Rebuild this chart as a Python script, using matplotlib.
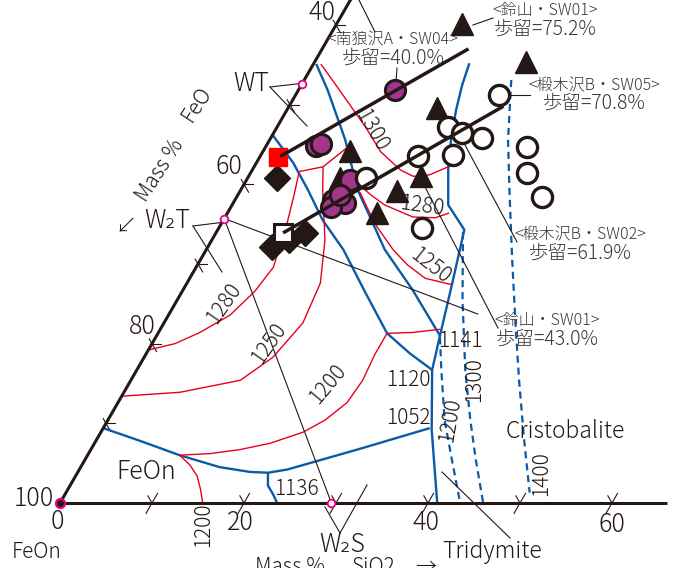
import numpy as np
import matplotlib.pyplot as plt

plt.rcParams['font.family'] = ['Noto Sans CJK JP', 'DejaVu Sans']
plt.rcParams['font.weight'] = 'light'

INK = '#231815'
TXT = '#3a3634'
BLUE = '#0a5aa8'
RED = '#e60020'
PURPLE = '#a3358f'
MAGENTA = '#e4007f'

# ---- data: compositions in mass % as (SiO2, FeO); the remainder is TiO2 ----
feo_ticks = [90, 80, 70, 60, 50, 40]
sio2_ticks = [10, 20, 30, 40, 50, 60]

# phase boundaries (blue)
bnd_1052 = [(0.0, 90.6), (4.8, 87.4), (10.0, 84.0), (15.1, 80.4), (18.7, 77.4),
            (20.7, 75.5), (22.6, 73.2), (29.2, 64.0), (35.5, 55.1)]
bnd_1136 = [(20.7, 75.5), (21.5, 76.3), (22.7, 76.3), (23.6, 76.4)]
bnd_silica = [(16.9, 27.9), (17.5, 30.1), (18.4, 32.3), (19.7, 34.7), (21.3, 36.9),
              (23.5, 39.1), (26.8, 38.9), (28.9, 43.7), (30.8, 48.2), (32.1, 51.2),
              (35.8, 55.0), (41.0, 59.0)]
bnd_w2t = [(0.0, 53.8), (4.0, 53.3), (7.3, 53.4), (10.8, 53.7), (14.9, 53.3),
           (19.9, 53.6), (24.9, 53.8), (28.6, 52.6), (32.1, 51.2)]
bnd_wt = [(0.3, 44.6), (3.2, 45.0), (8.2, 46.2), (12.7, 48.0), (16.2, 48.4),
          (19.4, 48.8), (25.0, 48.3), (30.8, 48.2)]

# silica liquidus isotherms (blue dashed)
dash_1200 = [(30.9, 48.3), (33.1, 50.2), (36.6, 53.0), (39.9, 54.7), (43.5, 56.5)]
dash_1300 = [(26.8, 39.2), (31.0, 43.5), (35.7, 47.6), (39.4, 50.2), (42.5, 52.1),
             (46.0, 54.0)]
dash_1400 = [(22.5, 24.4), (25.9, 28.5), (29.2, 31.5), (33.9, 35.6), (38.7, 39.6),
             (42.2, 42.4), (46.5, 45.6), (50.4, 48.3)]

# isotherms (red)
iso_1300 = [(0.8, 44.1), (3.6, 43.8), (6.6, 43.5), (9.6, 43.2), (12.8, 43.1),
            (16.1, 42.1), (17.9, 41.1), (19.6, 39.2), (21.1, 36.7)]
iso_1300b = [(5.2, 53.2), (7.5, 50.3), (8.9, 46.5)]
iso_1280 = [(5.2, 53.2), (6.1, 55.2), (7.1, 57.7), (8.4, 62.0), (7.9, 65.5),
            (6.7, 69.7), (4.5, 74.1), (2.5, 77.5), (0.0, 80.8)]
iso_1280b = [(12.2, 47.6), (14.4, 46.9), (16.6, 46.0), (20.4, 43.7), (22.9, 41.3),
             (24.1, 39.5)]
iso_1250 = [(7.5, 50.3), (8.9, 51.8), (12.3, 54.7), (14.5, 57.9), (15.1, 62.3),
            (14.0, 67.7), (11.9, 72.7), (6.1, 80.0), (0.0, 86.6)]
iso_1250b = [(13.1, 47.9), (15.1, 48.1), (17.2, 48.2), (20.3, 47.9), (22.8, 47.3),
             (25.6, 46.2), (28.9, 43.7)]
iso_1200 = [(24.9, 53.8), (24.9, 56.5), (25.2, 59.4), (24.9, 62.5), (23.6, 66.0),
            (22.0, 69.1), (19.1, 73.4), (16.2, 77.1), (13.2, 80.6), (10.0, 84.0)]
iso_1200b = [(10.0, 84.0), (11.7, 83.5), (13.2, 83.4), (14.5, 83.9), (15.5, 84.5)]
iso_1141 = [(24.9, 53.8), (27.6, 51.0), (30.4, 47.8)]

# slag analyses
purple_pts = [(10.5, 37.7), (5.4, 49.8), (5.9, 49.1), (11.2, 48.2), (10.7, 51.3),
              (12.1, 50.2), (10.9, 51.9), (11.1, 50.3)]
open_pts = [(22.1, 26.7), (12.9, 46.3), (17.1, 39.3), (18.6, 34.2), (20.5, 33.1),
            (23.0, 31.2), (20.9, 35.4), (22.1, 43.4), (28.4, 26.9), (30.1, 28.5),
            (33.2, 28.4)]
tri_pts = [(13.7, 26.2), (23.0, 21.7), (16.2, 34.2), (9.4, 46.4), (10.0, 49.2),
           (16.3, 47.3), (17.0, 43.8), (18.7, 40.3)]
dia_pts = [(3.2, 56.0), (7.0, 60.9), (9.7, 56.4), (8.4, 58.6)]
red_sq = [(2.0, 54.6)]
open_sq = [(7.3, 58.8)]

tie_upper = [(2.2, 54.3), (15.9, 27.1)]
tie_lower = [(7.3, 58.8), (23.3, 26.9)]

# compounds
WT = (0.0, 47.4)
W2T = (0.0, 64.3)
W2S = (29.5, 70.5)
FEO = (0.0, 100.0)
w2t_join_end = (33.6, 42.7)

S = 9.2  # image pixels per mass %


def tern(sio2, feo):
    sio2 = np.asarray(sio2, float)
    feo = np.asarray(feo, float)
    c = 100.0 - sio2 - feo
    return sio2 + c / 2.0, c * np.sqrt(3) / 2.0


def xy(points):
    s, f = zip(*points)
    return tern(s, f)


def at(px, py):
    # layout helper: image pixel -> diagram units
    return (px - 60) / S, (503 - py) / S


fig = plt.figure(figsize=(6.73, 5.68), dpi=100)
ax = fig.add_axes([0, 0, 1, 1])
ax.set_xlim(-60 / S, 613 / S)
ax.set_ylim(-65 / S, 503 / S)
ax.axis('off')


def line(points, **kw):
    x, y = xy(points)
    ax.plot(x, y, solid_capstyle='butt', **kw)


def seg(p0, p1, **kw):
    kw.setdefault('color', INK)
    kw.setdefault('lw', 0.8)
    ax.plot([p0[0], p1[0]], [p0[1], p1[1]], **kw)


# triangle edges
line([FEO, (0.0, 36.0)], color=INK, lw=2.2, zorder=4)
line([FEO, (66.0, 34.0)], color=INK, lw=2.2, zorder=4)

# ticks
d60 = np.array([0.5, np.sqrt(3) / 2])
d120 = np.array([-0.5, np.sqrt(3) / 2])
dm60 = np.array([0.5, -np.sqrt(3) / 2])
for f in feo_ticks:
    p = np.array(tern(0, f))
    seg(p, p + [1.0, 0.0])
    seg(p - 0.6 * dm60, p + 1.0 * dm60)
for s in sio2_ticks:
    p = np.array(tern(s, 100 - s))
    seg(p - 1.3 * d60, p + 1.2 * d60)
    seg(p, p + 0.9 * d120)

# boundaries
for b in [bnd_1052, bnd_1136, bnd_silica, bnd_w2t, bnd_wt]:
    line(b, color=BLUE, lw=1.7, zorder=2)
for d in [dash_1200, dash_1300, dash_1400]:
    line(d, color=BLUE, lw=1.6, ls=(0, (3.2, 2.2)), zorder=2)
for r in [iso_1300, iso_1300b, iso_1280, iso_1280b, iso_1250, iso_1250b,
          iso_1200, iso_1200b, iso_1141]:
    line(r, color=RED, lw=1.0, zorder=2)

# compound joins and leaders
line([W2T, w2t_join_end], color=INK, lw=0.8, zorder=3)
line([W2T, W2S], color=INK, lw=0.8, zorder=3)
leaders = [
    ((270, 87), (305, 83)), ((270, 87), (307, 126)),
    ((193, 226), (225, 222)), ((193, 226), (222, 272)),
    ((340, 533), (325, 507)), ((340, 533), (367, 485)),
    ((442, 472), (510, 538)),
    ((358, -2), (375, 32)),
    ((473, 25), (493, 18)),
    ((397, 68), (396, 82)),
    ((510, 95), (530, 95)),
    ((465, 145), (517, 242)),
    ((423, 183), (498, 328)),
]
for a, b in leaders:
    seg(at(*a), at(*b), zorder=3)

# markers
x, y = xy(tri_pts)
ax.plot(x, y, '^', ms=16, color=INK, ls='none', zorder=5)
x, y = xy(dia_pts)
ax.plot(x, y, 'D', ms=13.5, color=INK, ls='none', zorder=5)
x, y = xy(purple_pts)
ax.plot(x, y, 'o', ms=14.5, mfc=PURPLE, mec=INK, mew=2.2, ls='none', zorder=6)
x, y = xy(open_pts)
ax.plot(x, y, 'o', ms=14.5, mfc='white', mec=INK, mew=2.4, ls='none', zorder=7)
x, y = xy(red_sq)
ax.plot(x, y, 's', ms=12.5, color='#ff0000', ls='none', zorder=7)
x, y = xy(open_sq)
ax.plot(x, y, 's', ms=12.5, mfc='white', mec=INK, mew=2.2, ls='none', zorder=7)

line(tie_upper, color=INK, lw=2.5, zorder=8)
line(tie_lower, color=INK, lw=2.5, zorder=8)

x, y = xy([WT, W2T, W2S])
ax.plot(x, y, 'o', ms=5.5, mfc='white', mec=MAGENTA, mew=1.3, ls='none', zorder=9)
x, y = xy([FEO])
ax.plot(x, y, 'o', ms=6.5, mfc=INK, mec=MAGENTA, mew=1.6, ls='none', zorder=9)


def label(s, px, py, size, rot=0, ha='center', va='center', color=INK):
    ax.text(*at(px, py), s, fontsize=size, rotation=rot, ha=ha, va=va,
            color=color, rotation_mode='anchor', zorder=10)


# axis numbers
label('40', 322, 13, 18)
label('60', 229, 167, 18)
label('80', 142, 327, 18)
label('100', 34, 499, 18)
label('0', 57, 522, 18)
label('20', 240, 523, 18)
label('40', 426, 523, 18)
label('60', 612, 525, 18)
label('FeOn', 37, 552, 15)

label('Mass %', 160, 170, 15, rot=57)
label('FeO', 197, 104, 15, rot=57)
label('↙', 126, 227, 15)
label('Mass %', 255, 556, 15, ha='left', va='top')
label('SiO2', 352, 556, 15, ha='left', va='top')
label('→', 415, 556, 15, ha='left', va='top')

# phases and compounds
label('WT', 251, 84, 18)
label('W₂T', 167, 221, 18)
label('W₂S', 342, 545, 18)
label('FeOn', 146, 472, 18)
label('Cristobalite', 565, 432, 16.5)
label('Tridymite', 492, 552, 16.5)

# temperatures
label('1141', 460, 341, 15)
label('1120', 408, 380, 15)
label('1052', 408, 418, 15)
label('1136', 297, 489, 15)
label('1300', 372, 130, 15, rot=-60)
label('1280', 422, 206, 15, rot=-8)
label('1250', 430, 266, 15, rot=-38)
label('1280', 224, 303, 15, rot=55)
label('1250', 269, 343, 15, rot=55)
label('1200', 328, 384, 15, rot=50)
label('1200', 203, 525, 15, rot=90)
label('1200', 450, 420, 15, rot=80)
label('1300', 474, 380, 15, rot=90)
label('1400', 541, 474, 15, rot=90)

# sample notes
notes = [
    ('<南狼沢A・SW04>', '歩留=40.0%', 393, 40, 58),
    ('<鈴山・SW01>', '歩留=75.2%', 545, 11, 29),
    ('<椴木沢B・SW05>', '歩留=70.8%', 594, 86, 103),
    ('<椴木沢B・SW02>', '歩留=61.9%', 580, 235, 253),
    ('<鈴山・SW01>', '歩留=43.0%', 547, 321, 339),
]
for head, yld, px, py1, py2 in notes:
    label(head, px, py1, 11.5, color=TXT)
    label(yld, px, py2, 14, color=TXT)

fig.savefig('out.png', dpi=100)
